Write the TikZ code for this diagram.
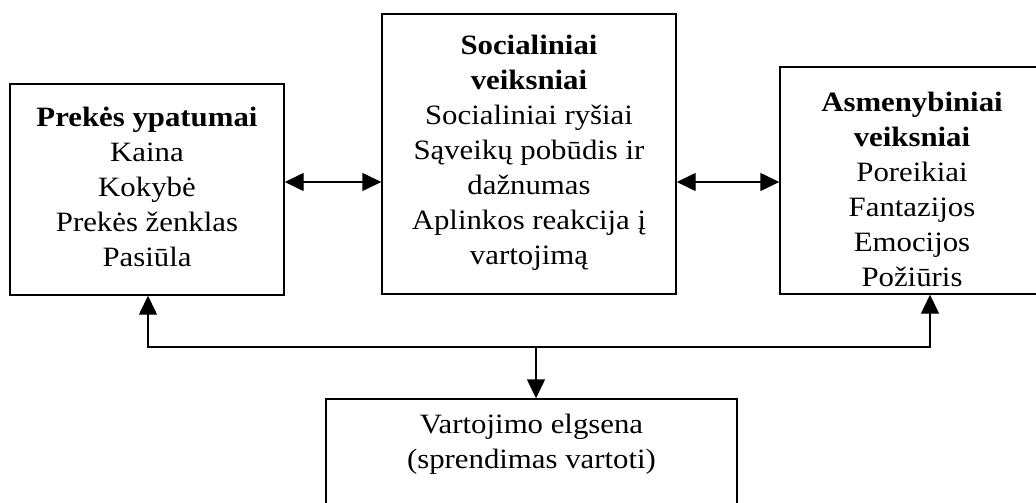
\documentclass[tikz,border=0pt]{standalone}
\usepackage{fontspec}
\setmainfont{Liberation Serif}[FakeStretch=1.1]
\usetikzlibrary{arrows.meta}
\tikzset{
  box/.style={draw, line width=1.4pt, inner sep=0pt},
  txt/.style={align=center, inner sep=0pt, font=\fontsize{28}{35}\selectfont},
  link/.style={line width=1.4pt, {Triangle[length=19pt,width=18pt]}-{Triangle[length=19pt,width=18pt]}},
  down/.style={line width=1.4pt, -{Triangle[length=19pt,width=18pt]}}
}
\begin{document}
\begin{tikzpicture}[x=1pt,y=-1pt]
\useasboundingbox (0,0) rectangle (1036,503);
\clip (0,0) rectangle (1036,503);
\fill[white] (0,0) rectangle (1036,503);

% boxes
\node[box, minimum width=274pt, minimum height=211pt] (L) at (147,189.5) {};
\node[box, minimum width=294pt, minimum height=280pt] (M) at (529,154) {};
\node[box, minimum width=265pt, minimum height=227pt] (R) at (912.5,180.5) {};
\node[box, minimum width=411pt, minimum height=140pt] (B) at (531.5,469) {};

% box texts
\node[txt] (Lt) at (147,187) {\textbf{Prekės ypatumai}\\Kaina\\Kokybė\\Prekės ženklas\\Pasiūla};
\node[txt] (Mt) at (529,153) {\textbf{Socialiniai}\\\textbf{veiksniai}\\Socialiniai ryšiai\\Sąveikų pobūdis ir\\dažnumas\\Aplinkos reakcija į\\vartojimą};
\node[txt] (Rt) at (912,189) {\textbf{Asmenybiniai}\\\textbf{veiksniai}\\Poreikiai\\Fantazijos\\Emocijos\\Požiūris};
\node[txt] (Bt) at (531.5,444.5) {Vartojimo elgsena\\(sprendimas vartoti)};

% connector guide points
\coordinate (row) at (0,182);
\coordinate (bus) at (536,347);
\coordinate (lx) at (148,0);
\coordinate (rx) at (930,0);

% horizontal links
\draw[link] (L.east |- row) -- (M.west |- row);
\draw[link] (M.east |- row) -- (R.west |- row);

% bottom bus
\draw[link] (L.south -| lx) -- (lx |- bus) -- (rx |- bus) -- (R.south -| rx);
\draw[down] (bus) -- (B.north -| bus);
\end{tikzpicture}
\end{document}
